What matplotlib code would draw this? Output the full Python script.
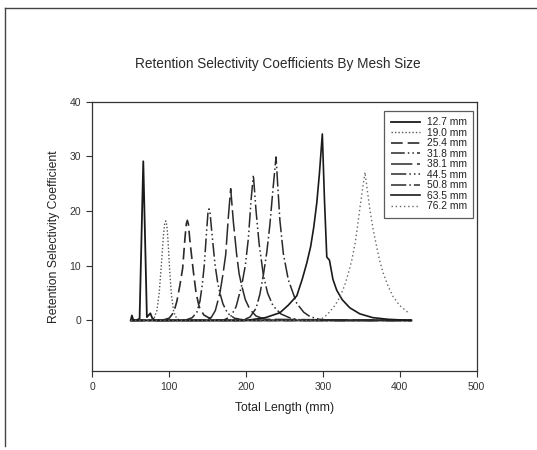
import matplotlib
matplotlib.use("Agg")
import matplotlib.pyplot as plt
from matplotlib.lines import Line2D

plt.rcParams['font.family'] = ['Liberation Sans', 'DejaVu Sans']

# values (total length in mm, coefficient)
x_127 = [50, 51.5, 53, 55, 58, 61.5, 66.3, 71, 73, 75.5, 78, 82, 90, 415]
y_127 = [0, 0.9, 0.2, 0, 0.1, 0.3, 29.1, 0.6, 0.9, 1.3, 0.4, 0, 0, 0]

x_190 = [50, 75, 80, 84, 87, 90, 92.5, 94, 95.5, 97, 98.5, 100.5, 103, 106, 110, 115, 125, 415]
y_190 = [0, 0, 0.3, 1.8, 5, 10.5, 15.5, 17.6, 18.2, 17.4, 14.5, 9.5, 4.5, 1.5, 0.3, 0, 0, 0]

x_254 = [50, 90, 100, 106, 110, 114, 117.5, 120.5, 122.3, 123.6, 125, 127, 131.4, 135, 139,
         145, 155, 170, 415]
y_254 = [0, 0, 0.4, 1.5, 3.5, 6.5, 9.5, 15, 17.7, 18.3, 17.6, 14.5, 9, 5, 2.5,
         1, 0.2, 0, 0]

x_318 = [50, 120, 130, 136, 140, 143, 145.7, 148.5, 150.4, 151.8, 153.3, 155, 159.6, 163, 166,
         170, 176, 185, 200, 415]
y_318 = [0, 0, 0.5, 1.5, 3.5, 6.5, 10.2, 16, 19.6, 20.4, 19.5, 16.8, 10.2, 7, 5,
         3, 1.3, 0.4, 0, 0]

x_381 = [50, 145, 155, 160, 166, 170, 173.5, 177, 180, 183.5, 187.8, 191, 194.3, 199, 205, 213, 225, 415]
y_381 = [0, 0, 0.6, 1.8, 5, 8.5, 12, 19, 24.1, 18, 12, 8.5, 6.4, 3.8, 2, 0.8, 0.2, 0]

x_445 = [50, 170, 180, 187, 194.3, 199, 203, 206.5, 209.5, 213, 217, 222.5, 228, 235, 245, 258, 275, 415]
y_445 = [0, 0, 0.7, 2.5, 6.4, 10, 15, 22, 26.6, 20, 14, 8.3, 5, 2.7, 1.2, 0.4, 0, 0]

x_508 = [50, 195, 205, 213, 218, 222.5, 227, 231, 235, 239, 241.5, 244, 248.5, 255, 266, 275, 283, 295, 310, 415]
y_508 = [0, 0, 0.6, 2.2, 4.8, 8.3, 12.5, 17.5, 24, 29.9, 24, 18.3, 12.2, 7.4, 3.1, 1.5, 0.7, 0.2, 0, 0]

x_635 = [50, 200, 225, 244, 255, 266, 273, 279, 284, 288, 292, 295.5, 299.2, 302, 305, 308.5,
         313, 318, 325, 335, 348, 365, 385, 415]
y_635 = [0, 0, 0.5, 1.4, 2.8, 4.5, 7.5, 10.5, 13.5, 17, 21.5, 27, 34.1, 22, 11.6, 11,
         7.5, 5.5, 3.8, 2.3, 1.2, 0.5, 0.2, 0]

x_762 = [50, 285, 294, 302, 309, 316, 322, 328, 333, 337.5, 341.7, 345, 348.2, 351.5, 354.7,
         358, 361.2, 365.5, 370, 374, 378.5, 385, 391.5, 400, 411]
y_762 = [0, 0, 0, 0.6, 1.6, 2.8, 4.3, 6.3, 8.6, 11, 14, 17.2, 20.7, 24, 27.1,
         23.5, 20.1, 16.5, 13.4, 10.8, 8.6, 6.2, 4.3, 2.7, 1.4]

labels = ['12.7 mm', '19.0 mm', '25.4 mm', '31.8 mm', '38.1 mm',
          '44.5 mm', '50.8 mm', '63.5 mm', '76.2 mm']
xs = [x_127, x_190, x_254, x_318, x_381, x_445, x_508, x_635, x_762]
ys = [y_127, y_190, y_254, y_318, y_381, y_445, y_508, y_635, y_762]

styles = ['-', (0, (1, 1.5)), (0, (7, 3)), (0, (9, 2, 1, 2, 1, 2)), (0, (14, 3)),
          (0, (10, 2, 1, 2, 1, 2)), (0, (10, 2, 1, 2)), '-', (0, (1, 2))]
widths = [1.3, 1.0, 1.2, 1.1, 1.1, 1.1, 1.1, 1.2, 1.0]
colors = ['#1a1a1a', '#555555', '#2a2a2a', '#2a2a2a', '#2a2a2a',
          '#2a2a2a', '#2a2a2a', '#1a1a1a', '#666666']

fig = plt.figure(figsize=(5.37, 4.5), dpi=100)
ax = fig.add_axes([0.1719, 0.1762, 0.7158, 0.5978])

for x, y, lab, ls, lw, c in zip(xs, ys, labels, styles, widths, colors):
    ax.plot(x, y, linestyle=ls, linewidth=lw, color=c, label=lab)

ax.set_xlim(0, 500)
ax.set_ylim(-9.2, 40)
ax.set_xticks([0, 100, 200, 300, 400, 500])
ax.set_yticks([0, 10, 20, 30, 40])
ax.tick_params(direction='out', length=4, width=0.8, labelsize=7.5, colors='#333333', pad=4)
for s in ax.spines.values():
    s.set_linewidth(0.9)
    s.set_color('#333333')

ax.set_xlabel('Total Length (mm)', fontsize=8.8, color='#222222', labelpad=7)
ax.set_ylabel('Retention Selectivity Coefficient', fontsize=8.8, color='#222222', labelpad=7)
fig.text(0.518, 0.858, 'Retention Selectivity Coefficients By Mesh Size',
         ha='center', va='center', fontsize=9.8, color='#2a2a2a')

handles = [Line2D([], [], linestyle=ls, linewidth=lw, color=c)
           for ls, lw, c in zip(styles, widths, colors)]
leg = ax.legend(handles, labels, loc='upper right', bbox_to_anchor=(0.99, 0.965),
                fontsize=7.4, frameon=True, fancybox=False, labelspacing=0.05,
                handlelength=2.9, handletextpad=0.6, borderpad=0.6, borderaxespad=0)
leg.get_frame().set_edgecolor('#333333')
leg.get_frame().set_linewidth(0.9)
for t in leg.get_texts():
    t.set_color('#222222')

# outer frame of the scanned page (top and left edges)
fig.add_artist(Line2D([0.009, 1.0], [0.982, 0.982], color='#444444', linewidth=1.0,
                      transform=fig.transFigure))
fig.add_artist(Line2D([0.009, 0.009], [0.982, 0.01], color='#444444', linewidth=1.0,
                      transform=fig.transFigure))

fig.savefig('out.png', dpi=100)
